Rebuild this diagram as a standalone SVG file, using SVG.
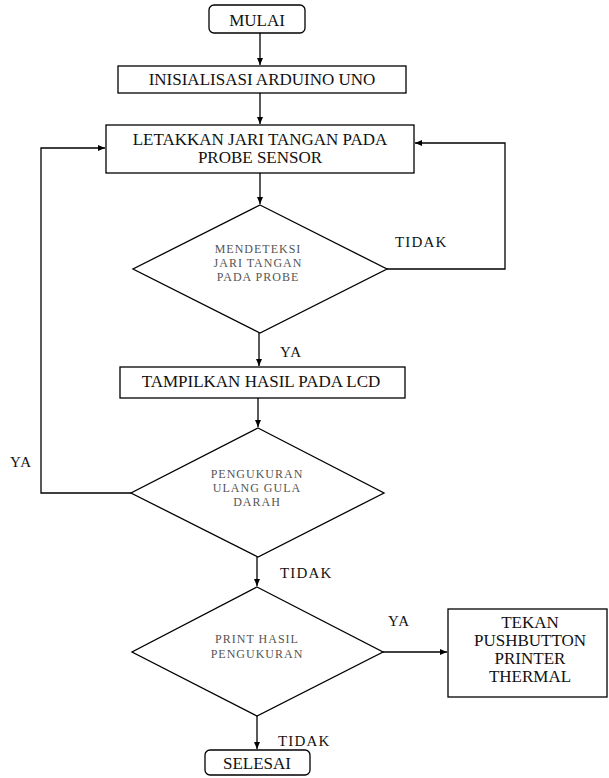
<svg xmlns="http://www.w3.org/2000/svg" width="609" height="778" viewBox="0 0 609 778">
<style>
.box{fill:#fff;stroke:#000;stroke-width:1.3}
.bt{font-family:'Liberation Serif','DejaVu Serif',serif;font-size:17px;fill:#111;text-anchor:middle}
.dt{font-family:'Liberation Serif','DejaVu Serif',serif;font-size:12px;fill:#555;text-anchor:middle;letter-spacing:1px}
.lb{font-family:'Liberation Serif','DejaVu Serif',serif;font-size:15px;fill:#111;letter-spacing:1.2px}
.cn{fill:none;stroke:#000;stroke-width:1.3}
</style>
<defs>
<marker id="ah" markerWidth="8" markerHeight="8" refX="7" refY="4" orient="auto" markerUnits="userSpaceOnUse">
<path d="M0,1 L7,4 L0,7 Z" fill="#000"/>
</marker>
</defs>
<rect width="609" height="778" fill="#fff"/>
<g id="connectors">
<path class="cn" d="M260,33 V65" marker-end="url(#ah)"/>
<path class="cn" d="M260,93 V124" marker-end="url(#ah)"/>
<path class="cn" d="M260,173 V204" marker-end="url(#ah)"/>
<path class="cn" d="M387,269 H505 V143 H415" marker-end="url(#ah)"/>
<path class="cn" d="M259,333 V366" marker-end="url(#ah)"/>
<path class="cn" d="M258,398 V427" marker-end="url(#ah)"/>
<path class="cn" d="M131,493 H41 V148 H105" marker-end="url(#ah)"/>
<path class="cn" d="M257,557 V586" marker-end="url(#ah)"/>
<path class="cn" d="M383,652 H447" marker-end="url(#ah)"/>
<path class="cn" d="M257,716 V749" marker-end="url(#ah)"/>
<text class="lb" x="395" y="247">TIDAK</text>
<text class="lb" x="280" y="357">YA</text>
<text class="lb" x="10" y="467">YA</text>
<text class="lb" x="280" y="578">TIDAK</text>
<text class="lb" x="388" y="626">YA</text>
<text class="lb" x="278" y="746">TIDAK</text>
</g>
<g id="mulai">
<rect class="box" x="209" y="5" width="96" height="28" rx="5"/>
<text class="bt" x="257" y="26">MULAI</text>
</g>
<g id="inisialisasi">
<rect class="box" x="118" y="66" width="288" height="27"/>
<text class="bt" x="262" y="85">INISIALISASI ARDUINO UNO</text>
</g>
<g id="letakkan">
<rect class="box" x="106" y="125" width="308" height="48"/>
<text class="bt" x="260" y="145">LETAKKAN JARI TANGAN PADA</text>
<text class="bt" x="260" y="163">PROBE SENSOR</text>
</g>
<g id="mendeteksi">
<polygon class="box" points="260,205 387,269 260,333 133,269"/>
<text class="dt" x="258" y="253">MENDETEKSI</text>
<text class="dt" x="258" y="267">JARI TANGAN</text>
<text class="dt" x="258" y="281">PADA PROBE</text>
</g>
<g id="tampilkan">
<rect class="box" x="120" y="367" width="285" height="31"/>
<text class="bt" x="261" y="387">TAMPILKAN HASIL PADA LCD</text>
</g>
<g id="pengukuran-ulang">
<polygon class="box" points="258,428 384,493 258,557 131,493"/>
<text class="dt" x="257" y="478">PENGUKURAN</text>
<text class="dt" x="257" y="492">ULANG GULA</text>
<text class="dt" x="257" y="506">DARAH</text>
</g>
<g id="print-hasil">
<polygon class="box" points="257,587 383,652 257,716 132,652"/>
<text class="dt" x="257" y="643">PRINT HASIL</text>
<text class="dt" x="257" y="658">PENGUKURAN</text>
</g>
<g id="tekan">
<rect class="box" x="448" y="609" width="159" height="88"/>
<text class="bt" x="530" y="628">TEKAN</text>
<text class="bt" x="530" y="646">PUSHBUTTON</text>
<text class="bt" x="530" y="664">PRINTER</text>
<text class="bt" x="530" y="682">THERMAL</text>
</g>
<g id="selesai">
<rect class="box" x="205" y="750" width="105" height="25" rx="5"/>
<text class="bt" x="257" y="769">SELESAI</text>
</g>
</svg>
